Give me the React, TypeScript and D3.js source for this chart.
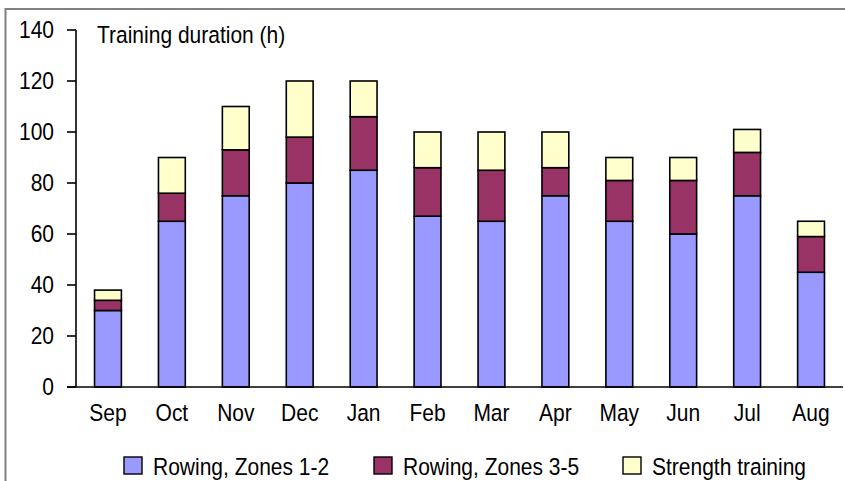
import React, { useEffect, useRef } from 'react';
import * as d3 from 'd3';

const months = ['Sep', 'Oct', 'Nov', 'Dec', 'Jan', 'Feb', 'Mar', 'Apr', 'May', 'Jun', 'Jul', 'Aug'];
// hours per month for each stacked part
const zones12 = [30, 65, 75, 80, 85, 67, 65, 75, 65, 60, 75, 45];
const zones35 = [4, 11, 18, 18, 21, 19, 20, 11, 16, 21, 17, 14];
const strength = [4, 14, 17, 22, 14, 14, 15, 14, 9, 9, 9, 6];
const seriesNames = ['Rowing, Zones 1-2', 'Rowing, Zones 3-5', 'Strength training'];
const seriesColors = ['#9999FF', '#993366', '#FFFFCC'];
const yTicks = [0, 20, 40, 60, 80, 100, 120, 140];

const W = 845, H = 481;
const FONT = '"Liberation Sans", Arial, sans-serif';
const STRETCH = 1.17; // the text in the original is a bit taller than wide

export default function App() {
	const ref = useRef<SVGSVGElement>(null);

	function draw() {
		const svg = d3.select(ref.current);
		svg.selectAll('*').remove();

		const x = d3.scaleBand().domain(months).range([76, 843]).paddingInner(0.58).paddingOuter(0.29);
		const y = d3.scaleLinear().domain([0, 140]).range([387, 30]);

		// helper: text drawn with the vertical stretch
		const label = (tx: number, ty: number, str: string, anchor = 'start') =>
			svg.append('text')
				.attr('transform', `translate(${tx},${ty}) scale(1,${STRETCH})`)
				.attr('text-anchor', anchor)
				.style('font-family', FONT)
				.style('font-size', '21px')
				.attr('fill', '#000')
				.text(str);

		// frame around the chart area
		svg.append('line').attr('x1', 5).attr('x2', W).attr('y1', 9).attr('y2', 9)
			.attr('stroke', '#808080').attr('stroke-width', 2);
		svg.append('line').attr('x1', 5.5).attr('x2', 5.5).attr('y1', 8).attr('y2', H)
			.attr('stroke', '#808080').attr('stroke-width', 2);

		// stacked bars
		const rows = months.map((m, i) => ({ month: m, a: zones12[i], b: zones35[i], c: strength[i] }));
		const stacked = d3.stack<any>().keys(['a', 'b', 'c'])(rows);

		const g = svg.append('g');
		stacked.forEach((layer, li) => {
			g.selectAll('rect.s' + li)
				.data(layer)
				.enter()
				.append('rect')
				.attr('class', 's' + li)
				.attr('x', (d: any) => x(d.data.month)!)
				.attr('width', x.bandwidth())
				.attr('y', (d) => y(d[1]))
				.attr('height', (d) => y(d[0]) - y(d[1]))
				.attr('fill', seriesColors[li])
				.attr('stroke', '#000')
				.attr('stroke-width', 1.6);
		});

		// y axis
		svg.append('line').attr('x1', 76).attr('x2', 76).attr('y1', y(140)).attr('y2', y(0))
			.attr('stroke', '#000').attr('stroke-width', 1.6);
		yTicks.forEach((t) => {
			svg.append('line').attr('x1', 67).attr('x2', 76).attr('y1', y(t)).attr('y2', y(t))
				.attr('stroke', '#000').attr('stroke-width', 1.6);
			label(54, y(t) + 8, String(t), 'end');
		});

		// x axis
		svg.append('line').attr('x1', 67).attr('x2', 843).attr('y1', y(0)).attr('y2', y(0))
			.attr('stroke', '#000').attr('stroke-width', 1.6);
		months.forEach((m) => {
			label(x(m)! + x.bandwidth() / 2, 421, m, 'middle');
		});

		label(97, 43, 'Training duration (h)');

		// legend
		const legendX = [124, 374, 623];
		seriesNames.forEach((name, i) => {
			svg.append('rect').attr('x', legendX[i]).attr('y', 457).attr('width', 18).attr('height', 17)
				.attr('fill', seriesColors[i]).attr('stroke', '#000').attr('stroke-width', 1.4);
			label(legendX[i] + 29, 475, name);
		});
	}

	useEffect(draw, []);

	return (
		<div style={{ position: 'absolute', left: 0, top: 0, background: '#fff' }}>
			<svg ref={ref} width={W} height={H} style={{ display: 'block' }}></svg>
		</div>
	);
}
